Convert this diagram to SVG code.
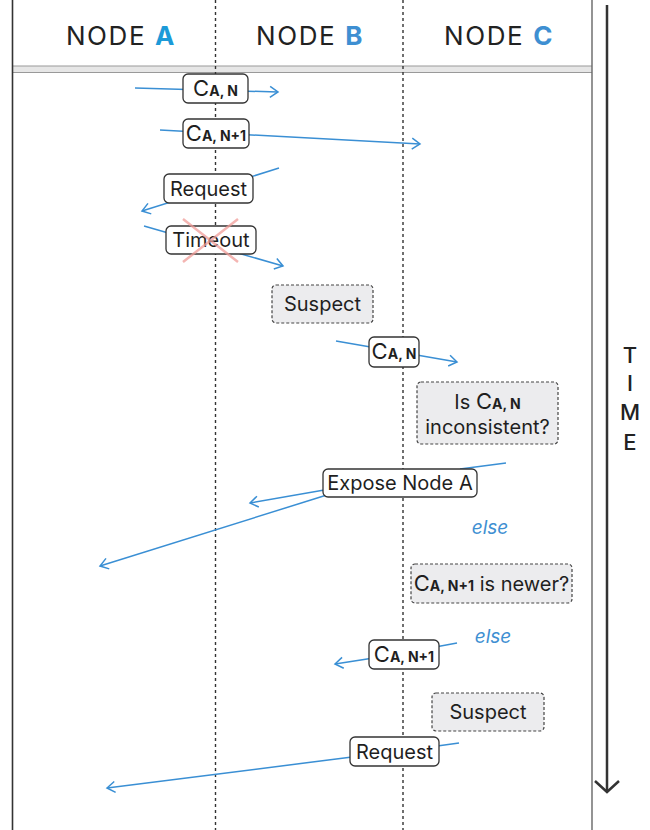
<svg xmlns="http://www.w3.org/2000/svg" width="650" height="830" viewBox="0 0 650 830">
<defs>
<style>
.hdr{font-family:Inter,"Liberation Sans",sans-serif;font-size:26px;fill:#222;letter-spacing:1.6px;text-anchor:middle}
.blueA{fill:#1c9ad8;font-weight:700}
.blue{fill:#3e8fd2;font-weight:700}
.life{stroke:#333;stroke-width:1.4;stroke-dasharray:3,3;fill:none}
.box{fill:#fff;stroke:#333;stroke-width:1.3}
.gbox{fill:#ececee;stroke:#444;stroke-width:1.2;stroke-dasharray:3,2}
.t{font-family:Inter,"Liberation Sans",sans-serif;font-size:20px;font-weight:400;fill:#1f1f1f;text-anchor:middle}
.big{font-size:22px}
.sub{font-size:14px;font-weight:700}
.conn{stroke:#3a8fd4;stroke-width:1.5;fill:none}
.else{font-family:Inter,"Liberation Sans",sans-serif;font-size:19px;fill:#3e8fd2;font-style:italic;text-anchor:middle}
.time{font-family:Inter,"Liberation Sans",sans-serif;font-size:22px;font-weight:500;fill:#222;text-anchor:middle}
</style>
<marker id="ah" markerUnits="userSpaceOnUse" markerWidth="20" markerHeight="20" refX="0" refY="0" viewBox="-10 -10 20 20" orient="auto">
<path d="M-8,-5.5 L0,0 L-8,5.5" fill="none" stroke="#3a8fd4" stroke-width="1.5"/>
</marker>
<marker id="ahk" markerUnits="userSpaceOnUse" markerWidth="30" markerHeight="30" refX="0" refY="0" viewBox="-15 -15 30 30" orient="auto">
<path d="M-11,-12 L0,0 L-11,12" fill="none" stroke="#333" stroke-width="2.5"/>
</marker>
</defs>
<rect width="650" height="830" fill="#fff"/>
<g id="frame">
<rect x="12" y="66" width="580" height="6.5" fill="#e6e6e6"/>
<line x1="12" y1="66" x2="592" y2="66" stroke="#999" stroke-width="1.2"/>
<line x1="12" y1="72.5" x2="592" y2="72.5" stroke="#999" stroke-width="1.2"/>
<line x1="12.5" y1="0" x2="12.5" y2="830" stroke="#333" stroke-width="1.6"/>
<line x1="592" y1="0" x2="592" y2="830" stroke="#666" stroke-width="1.4"/>
<line class="life" x1="215.5" y1="0" x2="215.5" y2="830"/>
<line class="life" x1="403" y1="0" x2="403" y2="830"/>
</g>
<g id="header">
<text class="hdr" x="121" y="45">NODE <tspan class="blueA">A</tspan></text>
<text class="hdr" x="310" y="45">NODE <tspan class="blue">B</tspan></text>
<text class="hdr" x="499" y="45">NODE <tspan class="blue">C</tspan></text>
</g>
<g id="time-axis">
<line x1="607" y1="5" x2="607" y2="792" stroke="#333" stroke-width="2.5" marker-end="url(#ahk)"/>
<text class="time" x="630" y="363">T</text>
<text class="time" x="630" y="391">I</text>
<text class="time" x="630" y="420">M</text>
<text class="time" x="630" y="450">E</text>
</g>
<g id="connectors">
<line class="conn" x1="135" y1="88" x2="278" y2="92" marker-end="url(#ah)"/>
<line class="conn" x1="160" y1="130" x2="420" y2="144" marker-end="url(#ah)"/>
<line class="conn" x1="279" y1="168" x2="142" y2="211" marker-end="url(#ah)"/>
<line class="conn" x1="144" y1="226" x2="283" y2="266" marker-end="url(#ah)"/>
<line class="conn" x1="336" y1="341" x2="457" y2="362" marker-end="url(#ah)"/>
<line class="conn" x1="506" y1="463" x2="460" y2="469"/>
<line class="conn" x1="330" y1="489" x2="250" y2="503" marker-end="url(#ah)"/>
<line class="conn" x1="330" y1="494" x2="100" y2="566" marker-end="url(#ah)"/>
<line class="conn" x1="457" y1="643" x2="430" y2="648"/>
<line class="conn" x1="380" y1="657" x2="335" y2="664" marker-end="url(#ah)"/>
<line class="conn" x1="459" y1="743" x2="430" y2="747"/>
<line class="conn" x1="360" y1="756" x2="107" y2="788" marker-end="url(#ah)"/>
</g>
<g id="msg-can-1">
<rect class="box" x="183" y="74" width="65" height="29" rx="5"/>
<text class="t" x="215.5" y="96"><tspan class="big">C</tspan><tspan class="sub">A, N</tspan></text>
</g>
<g id="msg-can1-1">
<rect class="box" x="183" y="119" width="66" height="29" rx="5"/>
<text class="t" x="216" y="141"><tspan class="big">C</tspan><tspan class="sub">A, N+1</tspan></text>
</g>
<g id="request-1">
<rect class="box" x="164" y="174" width="89" height="29" rx="5"/>
<text class="t" x="208.5" y="196">Request</text>
</g>
<g id="timeout">
<rect class="box" x="166" y="226" width="90" height="28" rx="5"/>
<text class="t" x="211" y="247">Timeout</text>
<path d="M183,219 L238,262 M238,219 L183,262" stroke="#f09c98" stroke-width="2.5" opacity="0.75" fill="none"/>
</g>
<g id="suspect-1">
<rect class="gbox" x="272" y="285" width="101" height="38" rx="4"/>
<text class="t" x="322.5" y="311">Suspect</text>
</g>
<g id="msg-can-2">
<rect class="box" x="369" y="337" width="50" height="30" rx="5"/>
<text class="t" x="394" y="359"><tspan class="big">C</tspan><tspan class="sub">A, N</tspan></text>
</g>
<g id="inconsistent">
<rect class="gbox" x="417" y="382" width="141" height="62" rx="4"/>
<text class="t" x="487.5" y="409">Is <tspan class="big">C</tspan><tspan class="sub">A, N</tspan></text>
<text class="t" x="487.5" y="434">inconsistent?</text>
</g>
<g id="expose">
<rect class="box" x="323" y="469" width="154" height="28" rx="5"/>
<text class="t" x="400" y="490">Expose Node A</text>
</g>
<g id="else-1">
<text class="else" x="490" y="534">else</text>
</g>
<g id="newer">
<rect class="gbox" x="411" y="564" width="161" height="39" rx="4"/>
<text class="t" x="491.5" y="591"><tspan class="big">C</tspan><tspan class="sub">A, N+1</tspan> is newer?</text>
</g>
<g id="else-2">
<text class="else" x="493" y="643">else</text>
</g>
<g id="msg-can1-2">
<rect class="box" x="369" y="640" width="70" height="29" rx="5"/>
<text class="t" x="404" y="662"><tspan class="big">C</tspan><tspan class="sub">A, N+1</tspan></text>
</g>
<g id="suspect-2">
<rect class="gbox" x="432" y="693" width="112" height="38" rx="4"/>
<text class="t" x="488" y="719">Suspect</text>
</g>
<g id="request-2">
<rect class="box" x="350" y="737" width="89" height="29" rx="5"/>
<text class="t" x="394.5" y="759">Request</text>
</g>
</svg>
